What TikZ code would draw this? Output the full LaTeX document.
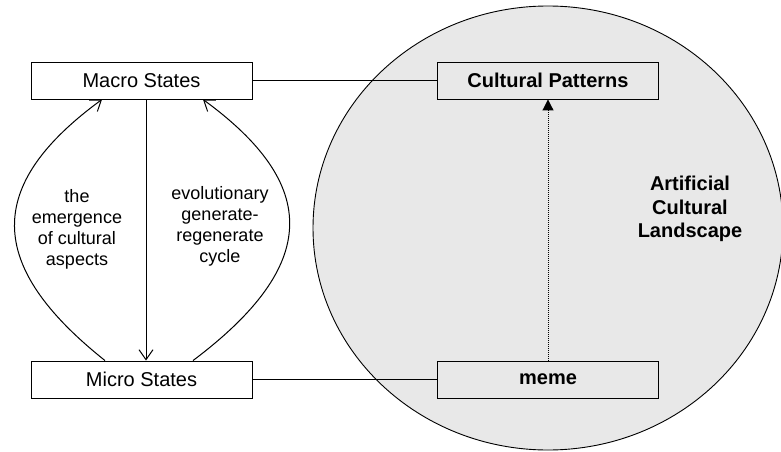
\documentclass[tikz,border=0pt]{standalone}
\usepackage{fontspec}
\setmainfont{Liberation Sans}
\usepackage{tikz}
\usetikzlibrary{shapes.geometric, arrows.meta, positioning}
\definecolor{landgray}{RGB}{232, 232, 232}
\tikzstyle{statebox} = [rectangle, draw=black, fill=white, minimum width=221pt, minimum height=37pt, inner sep=0pt, line width=0.9pt, font=\fontsize{20}{24}\selectfont]
\tikzstyle{cultbox} = [statebox, fill=landgray, font=\fontsize{20}{24}\selectfont\bfseries]
\tikzstyle{note} = [align=center, font=\fontsize{18}{21}\selectfont]
\tikzstyle{arrow} = [-{Straight Barb[length=10pt, width=14pt]}, line width=1pt]
\tikzstyle{dotarrow} = [-{Triangle[length=11pt, width=11pt]}, densely dotted, line width=1pt]

\begin{document}
\begin{tikzpicture}[x=1pt, y=-1pt]
    \useasboundingbox (0,0) rectangle (781,452);

    % Landscape
    \node[ellipse, draw=black, fill=landgray, line width=0.9pt, minimum width=470pt, minimum height=444pt, inner sep=0pt] (land) at (548, 228) {};
    \node[align=center, font=\fontsize{20}{23.5}\selectfont\bfseries] (landlabel) at (690, 209) {Artificial\\Cultural\\Landscape};

    % States
    \node[statebox] (macro) at (141.5, 80.5) {Macro States};
    \node[statebox] (micro) at (141.5, 379.5) {Micro States};

    % Cultural side
    \node[cultbox] (patterns) at (548, 80.5) {Cultural Patterns};
    \node[cultbox] (meme) at (548, 379.5) {meme};

    % Arrows
    \draw[arrow] ([xshift=4.5pt]macro.south) -- ([xshift=4.5pt]micro.north);
    \draw[arrow] ([xshift=-36.5pt]micro.north) .. controls (-15, 265) and (-15, 185) .. ([xshift=-39.5pt]macro.south);
    \draw[arrow] ([xshift=51.5pt]micro.north) .. controls (320, 265) and (320, 185) .. ([xshift=61.5pt]macro.south);
    \draw[line width=0.9pt] (macro) -- (patterns);
    \draw[line width=0.9pt] (micro) -- (meme);
    \draw[dotarrow] (meme) -- (patterns);

    % Labels
    \node[note] (emerge) at (77, 229) {the\\emergence\\of cultural\\aspects};
    \node[note] (cycle) at (220, 226) {evolutionary\\generate-\\regenerate\\cycle};
\end{tikzpicture}
\end{document}
